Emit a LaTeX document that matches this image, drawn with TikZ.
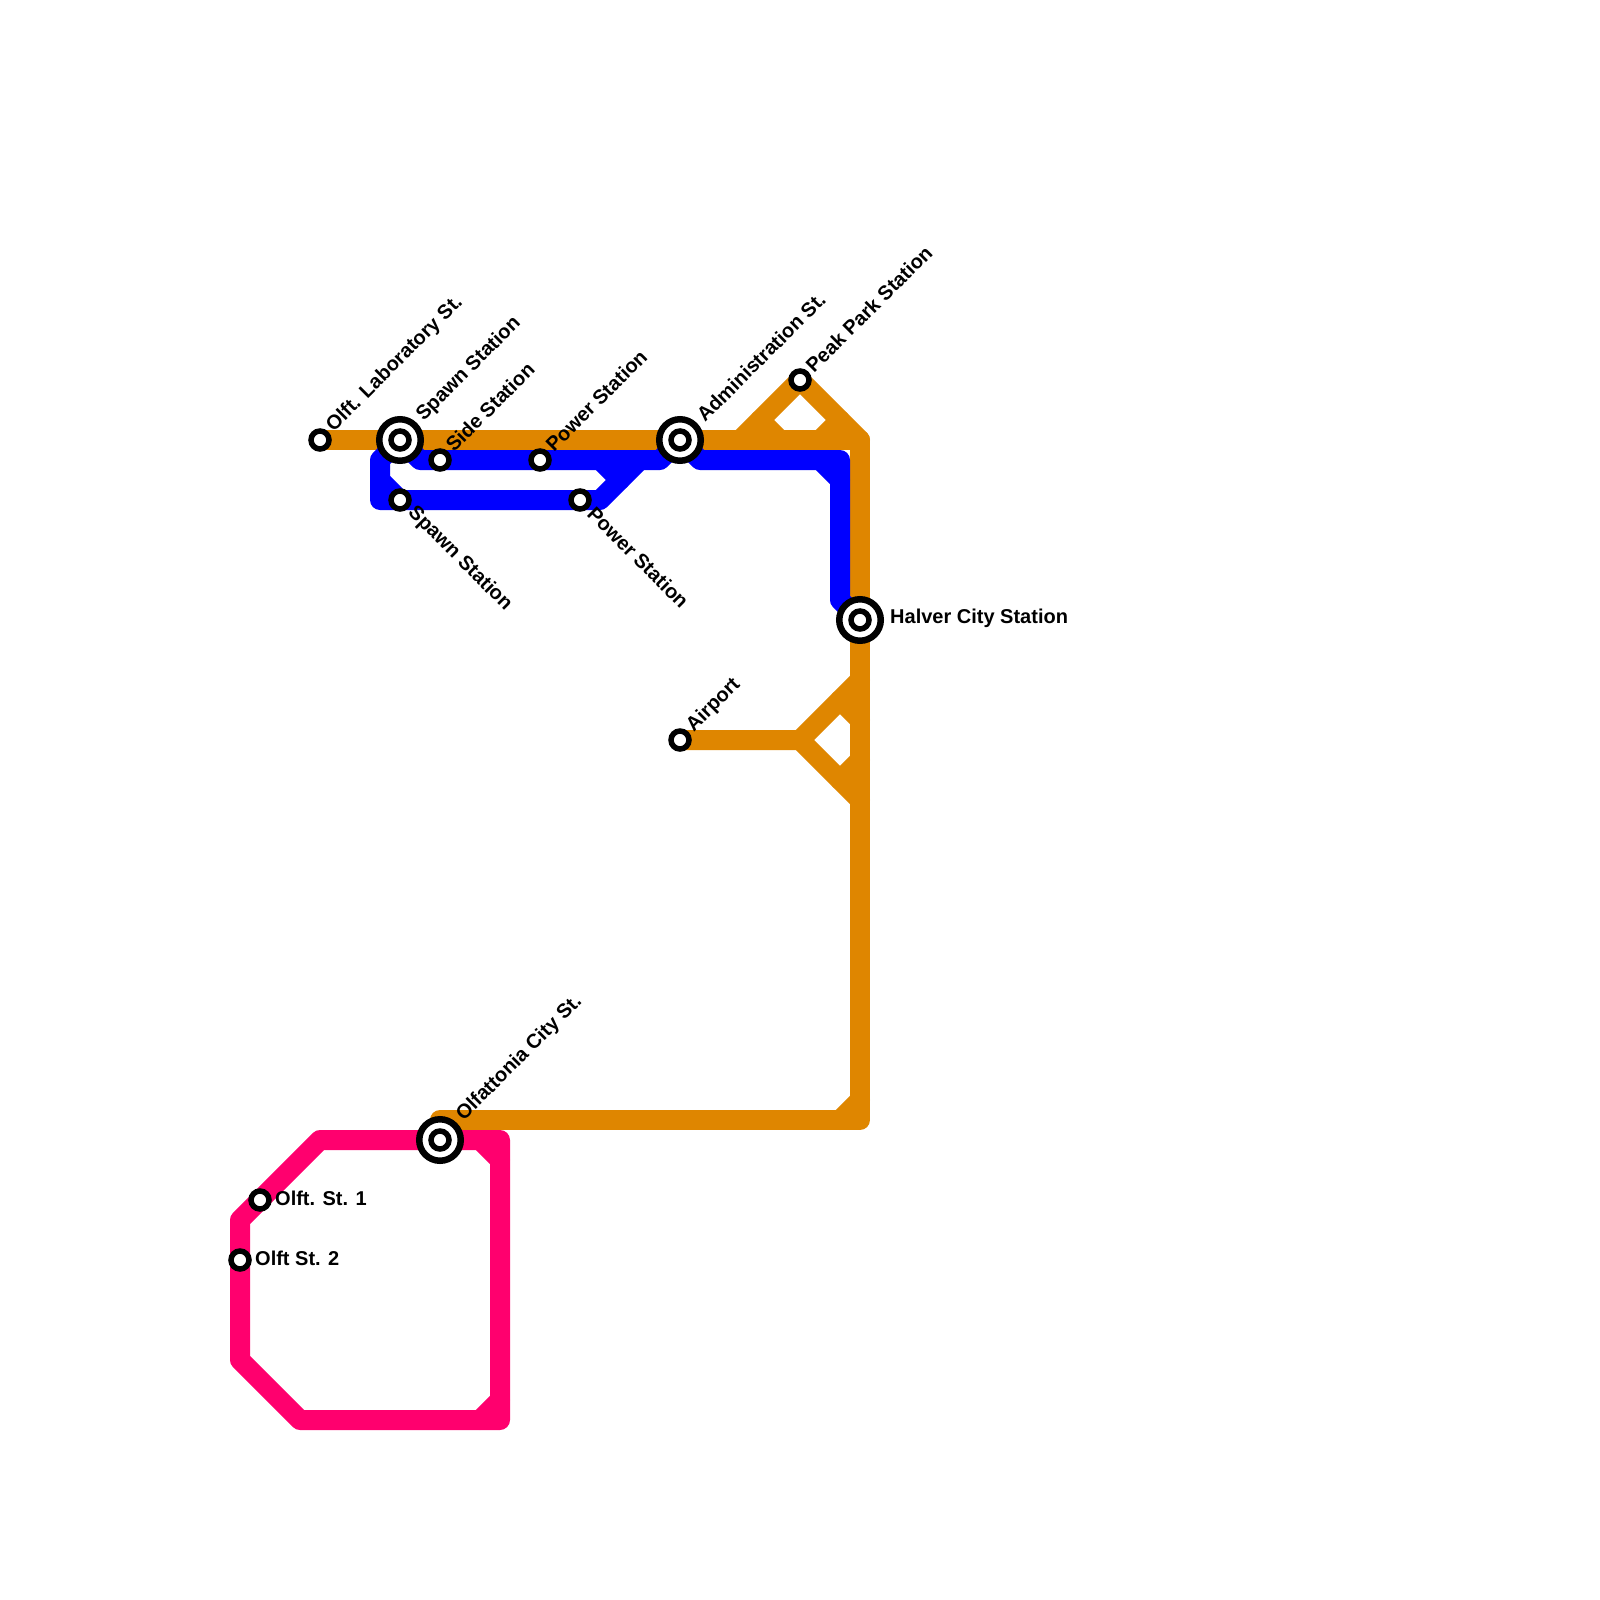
\documentclass[tikz,border=0pt]{standalone}
\usepackage{fontspec}
\setmainfont{Liberation Sans}
\definecolor{lineorange}{HTML}{DF8600}
\definecolor{lineblue}{HTML}{0000FF}
\definecolor{linepink}{HTML}{FF006E}
\tikzset{
  metro/.style={line width=20pt,line cap=round,line join=round},
  orangeline/.style={metro,draw=lineorange},
  blueline/.style={metro,draw=lineblue},
  pinkline/.style={metro,draw=linepink},
  stn/.style={circle,draw=black,fill=white,line width=5.5pt,minimum size=18pt,inner sep=0pt},
  hub/.style={circle,draw=black,fill=white,line width=6.5pt,minimum size=41.5pt,inner sep=0pt},
  lbl/.style={font=\fontsize{20}{22}\selectfont\bfseries,inner sep=0pt,anchor=west,text=black},
  lblup/.style={lbl,rotate=45},
  lbldown/.style={lbl,rotate=-45}
}
\begin{document}
\begin{tikzpicture}[x=1pt,y=-1pt]
\useasboundingbox (0,0) rectangle (1600,1600);
% stations as coordinates
\coordinate (pLab) at (320,440);
\coordinate (pSpawnA) at (400,440);
\coordinate (pSide) at (440,460);
\coordinate (pPowerA) at (540,460);
\coordinate (pSpawnB) at (400,500);
\coordinate (pPowerB) at (580,500);
\coordinate (pAdmin) at (680,440);
\coordinate (pPeak) at (800,380);
\coordinate (pHalver) at (860,620);
\coordinate (pAirport) at (680,740);
\coordinate (pOlfa) at (440,1140);
\coordinate (pOneSt) at (260,1200);
\coordinate (pTwoSt) at (240,1260);
% way points: orange
\coordinate (oA) at (860,440);
\coordinate (oB) at (860,1120);
\coordinate (oC) at (440,1120);
\coordinate (oD) at (740,440);
\coordinate (oE) at (760,420);
\coordinate (oF) at (780,440);
\coordinate (oG) at (820,440);
\coordinate (oH) at (840,420);
\coordinate (oI) at (800,740);
\coordinate (oJ) at (860,680);
\coordinate (oK) at (860,800);
\coordinate (oL) at (840,700);
\coordinate (oM) at (860,720);
\coordinate (oN) at (840,780);
\coordinate (oO) at (860,760);
\coordinate (oP) at (840,1120);
\coordinate (oQ) at (860,1100);
% way points: blue
\coordinate (bA) at (380,460);
\coordinate (bB) at (380,500);
\coordinate (bC) at (600,500);
\coordinate (bD) at (640,460);
\coordinate (bE) at (420,460);
\coordinate (bF) at (660,460);
\coordinate (bG) at (700,460);
\coordinate (bH) at (840,460);
\coordinate (bI) at (840,600);
\coordinate (bJ) at (380,480);
\coordinate (bK) at (600,460);
\coordinate (bL) at (620,480);
\coordinate (bM) at (820,460);
\coordinate (bN) at (840,480);
% way points: pink
\coordinate (rA) at (320,1140);
\coordinate (rB) at (500,1140);
\coordinate (rC) at (500,1420);
\coordinate (rD) at (300,1420);
\coordinate (rE) at (240,1360);
\coordinate (rF) at (240,1220);
\coordinate (rG) at (480,1140);
\coordinate (rH) at (500,1160);
\coordinate (rI) at (480,1420);
\coordinate (rJ) at (500,1400);
% orange
\draw[orangeline] (pLab) -- (oA) -- (oB) -- (oC);
\draw[orangeline] (oD) -- (pPeak) -- (oA);
\draw[orangeline] (oE) -- (oF);
\draw[orangeline] (oG) -- (oH);
\draw[orangeline] (pAirport) -- (oI) -- (oJ);
\draw[orangeline] (oI) -- (oK);
\draw[orangeline] (oL) -- (oM);
\draw[orangeline] (oN) -- (oO);
\draw[orangeline] (oP) -- (oQ);
% blue
\draw[blueline] (pSpawnA) -- (bA) -- (bB) -- (bC) -- (bD);
\draw[blueline] (pSpawnA) -- (bE) -- (bF) -- (pAdmin) -- (bG) -- (bH) -- (bI) -- (pHalver);
\draw[blueline] (bJ) -- (pSpawnB);
\draw[blueline] (bK) -- (bL);
\draw[blueline] (bM) -- (bN);
% pink
\draw[pinkline] (rA) -- (rB) -- (rC) -- (rD) -- (rE) -- (rF) -- cycle;
\draw[pinkline] (rG) -- (rH);
\draw[pinkline] (rI) -- (rJ);
% stations
\node[hub] (hSpawn) at (pSpawnA) {};
\node[hub] (hAdmin) at (pAdmin) {};
\node[hub] (hHalver) at (pHalver) {};
\node[hub] (hOlfa) at (pOlfa) {};
\node[stn] (nLab) at (pLab) {};
\node[stn] (nSpawnA) at (pSpawnA) {};
\node[stn] (nSide) at (pSide) {};
\node[stn] (nPowerA) at (pPowerA) {};
\node[stn] (nSpawnB) at (pSpawnB) {};
\node[stn] (nPowerB) at (pPowerB) {};
\node[stn] (nAdmin) at (pAdmin) {};
\node[stn] (nPeak) at (pPeak) {};
\node[stn] (nHalver) at (pHalver) {};
\node[stn] (nAirport) at (pAirport) {};
\node[stn] (nOlfa) at (pOlfa) {};
\node[stn] (nOneSt) at (pOneSt) {};
\node[stn] (nTwoSt) at (pTwoSt) {};
% labels
\node[lblup] (tLab) at (330,429) {Olft. Laboratory St.};
\node[lblup] (tSpawnA) at (420,418) {Spawn Station};
\node[lblup] (tSide) at (449,448) {Side Station};
\node[lblup] (tPowerA) at (549,448) {Power Station};
\node[lbldown] (tSpawnB) at (411,510) {Spawn Station};
\node[lbldown] (tPowerB) at (591,510) {Power Station};
\node[lblup] (tAdmin) at (700,418) {Administration St.};
\node[lblup] (tPeak) at (809,369) {Peak Park Station};
\node[lbl] (tHalver) at (890,618) {Halver City Station};
\node[lblup] (tAirport) at (690,729) {Airport};
\node[lblup] (tOlfa) at (460,1118) {Olfattonia City St.};
\node[lbl] (tOneSt) at (275,1198) {Olft. St. 1};
\node[lbl] (tTwoSt) at (255,1258) {Olft St. 2};
\end{tikzpicture}
\end{document}
